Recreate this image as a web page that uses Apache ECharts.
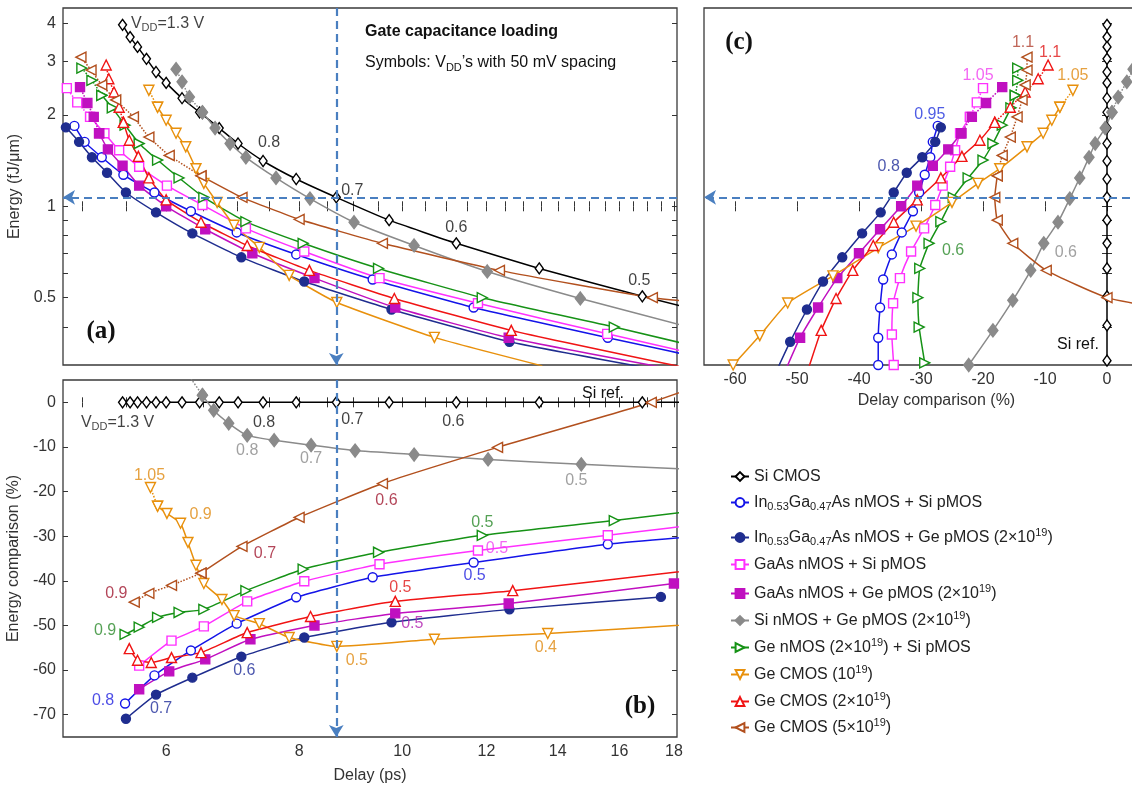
<!DOCTYPE html>
<html>
<head>
<meta charset="utf-8">
<script src="https://cdn.jsdelivr.net/npm/echarts@6/dist/echarts.min.js"></script>
<style>
  html, body { margin: 0; padding: 0; background: #fff; }
  #chart { width: 1132px; height: 790px; }
</style>
</head>
<body>
<div id="chart"></div>
<script>
// Each point: [VDD (V), x, y]
// panel a: [VDD, delay (ps), energy (fJ/um)]
// panel b: [VDD, delay (ps), energy comparison (%)]
// panel c: [VDD, delay comparison (%), energy (fJ/um)]

const siA = [[1.3,5.46,3.96],[1.25,5.55,3.61],[1.2,5.64,3.35],[1.15,5.75,3.06],[1.1,5.87,2.77],[1.05,6.00,2.55],[1.0,6.21,2.27],[0.95,6.45,2.04],[0.9,6.73,1.81],[0.85,7.01,1.61],[0.8,7.40,1.41],[0.75,7.95,1.23],[0.7,8.67,1.07],[0.65,9.72,0.90],[0.6,11.24,0.755],[0.55,13.45,0.624],[0.5,16.81,0.505],[0.45,21.6,0.405],[0.4,29.0,0.31]];
const siB = [[1.3,5.46,0],[1.25,5.55,0],[1.2,5.64,0],[1.15,5.75,0],[1.1,5.87,0],[1.05,6.00,0],[1.0,6.21,0],[0.95,6.45,0],[0.9,6.73,0],[0.85,7.01,0],[0.8,7.40,0],[0.75,7.95,0],[0.7,8.67,0],[0.65,9.72,0],[0.6,11.24,0],[0.55,13.45,0],[0.5,16.81,0],[0.45,21.6,0]];
const siC = [[1.3,0,3.96],[1.25,0,3.61],[1.2,0,3.35],[1.15,0,3.06],[1.1,0,2.77],[1.05,0,2.55],[1.0,0,2.27],[0.95,0,2.04],[0.9,0,1.81],[0.85,0,1.61],[0.8,0,1.41],[0.75,0,1.23],[0.7,0,1.07],[0.65,0,0.90],[0.6,0,0.755],[0.55,0,0.624],[0.5,0,0.505],[0.45,0,0.405],[0.4,0,0.31]];

const ingaasSiA = [[0.95,4.92,1.84],[0.9,5.03,1.63],[0.85,5.22,1.45],[0.8,5.47,1.27],[0.75,5.85,1.11],[0.7,6.33,0.963],[0.65,6.99,0.82],[0.6,7.95,0.694],[0.55,9.38,0.574],[0.5,11.67,0.464],[0.45,15.60,0.369],[0.4,20.5,0.30]];
const ingaasSiB = [[0.8,5.49,-67.5],[0.75,5.85,-61.2],[0.7,6.33,-55.6],[0.65,6.99,-49.6],[0.6,7.95,-43.7],[0.55,9.38,-39.2],[0.5,11.67,-35.9],[0.45,15.60,-31.8],[0.4,20.5,-29.3]];
const ingaasSiC = [[0.95,-27.3,1.84],[0.9,-28.1,1.63],[0.85,-28.5,1.45],[0.8,-29.4,1.27],[0.75,-30.3,1.11],[0.7,-31.3,0.963],[0.65,-33.1,0.82],[0.6,-34.7,0.694],[0.55,-36.1,0.574],[0.5,-36.6,0.464],[0.45,-36.9,0.369],[0.4,-36.9,0.30]];

const ingaasGeA = [[0.95,4.83,1.82],[0.9,4.97,1.63],[0.85,5.11,1.45],[0.8,5.28,1.29],[0.75,5.50,1.11],[0.7,5.87,0.955],[0.65,6.35,0.814],[0.6,7.06,0.679],[0.55,8.09,0.565],[0.5,9.77,0.457],[0.45,12.61,0.358],[0.4,17.5,0.288]];
const ingaasGeB = [[0.75,5.50,-70.9],[0.7,5.87,-65.5],[0.65,6.35,-61.7],[0.6,7.06,-57.0],[0.55,8.09,-52.7],[0.5,9.77,-49.3],[0.45,12.61,-46.4],[0.4,17.5,-43.6]];
const ingaasGeC = [[0.95,-26.8,1.82],[0.9,-27.7,1.63],[0.85,-29.8,1.45],[0.8,-32.3,1.29],[0.75,-34.4,1.11],[0.7,-36.5,0.955],[0.65,-39.5,0.814],[0.6,-42.7,0.679],[0.55,-45.8,0.565],[0.5,-48.4,0.457],[0.45,-51.1,0.358],[0.4,-53.2,0.29]];

const gaasSiA = [[1.05,4.84,2.45],[1.0,4.95,2.20],[0.95,5.09,1.97],[0.9,5.25,1.74],[0.85,5.42,1.53],[0.8,5.66,1.35],[0.75,6.01,1.17],[0.7,6.49,1.01],[0.65,7.13,0.846],[0.6,8.09,0.71],[0.55,9.52,0.58],[0.5,11.78,0.479],[0.45,15.58,0.38],[0.4,20.5,0.305]];
const gaasSiB = [[0.8,5.66,-59.0],[0.75,6.07,-53.4],[0.7,6.51,-50.2],[0.65,7.15,-44.6],[0.6,8.09,-40.1],[0.55,9.52,-36.3],[0.5,11.78,-33.2],[0.45,15.60,-29.8],[0.4,20.5,-26.4]];
const gaasSiC = [[1.05,-20.0,2.45],[1.0,-21.0,2.20],[0.95,-22.1,1.97],[0.9,-23.7,1.74],[0.85,-24.5,1.53],[0.8,-25.3,1.35],[0.75,-26.5,1.17],[0.7,-27.7,1.01],[0.65,-29.5,0.846],[0.6,-31.6,0.71],[0.55,-33.4,0.58],[0.5,-34.5,0.479],[0.45,-34.7,0.378],[0.4,-34.4,0.30]];

const gaasGeA = [[1.05,4.98,2.47],[1.0,5.06,2.19],[0.95,5.13,1.97],[0.9,5.19,1.74],[0.85,5.29,1.54],[0.8,5.46,1.36],[0.75,5.66,1.17],[0.7,6.00,1.0],[0.65,6.53,0.84],[0.6,7.23,0.70],[0.55,8.27,0.58],[0.5,9.85,0.464],[0.45,12.59,0.369],[0.4,18.0,0.29]];
const gaasGeB = [[0.75,5.66,-64.3],[0.7,6.04,-60.3],[0.65,6.53,-57.6],[0.6,7.20,-53.1],[0.55,8.27,-50.0],[0.5,9.85,-47.3],[0.45,12.59,-45.1],[0.4,18.0,-40.6]];
const gaasGeC = [[1.05,-16.9,2.47],[1.0,-19.5,2.19],[0.95,-21.8,1.97],[0.9,-23.5,1.74],[0.85,-25.6,1.54],[0.8,-28.1,1.36],[0.75,-30.6,1.17],[0.7,-33.2,1.0],[0.65,-36.6,0.84],[0.6,-40.0,0.70],[0.55,-43.5,0.58],[0.5,-46.6,0.464],[0.45,-49.5,0.369],[0.4,-51.8,0.29]];

const siGeA = [[1.1,6.13,2.83],[1.05,6.21,2.57],[1.0,6.31,2.29],[0.95,6.49,2.04],[0.9,6.67,1.81],[0.85,6.89,1.61],[0.8,7.13,1.45],[0.75,7.61,1.24],[0.7,8.19,1.06],[0.65,9.01,0.886],[0.6,10.26,0.743],[0.55,12.02,0.61],[0.5,14.70,0.497],[0.45,18.6,0.40]];
const siGeB = [[1.0,6.31,5.8],[0.95,6.49,1.6],[0.9,6.65,-1.8],[0.85,6.87,-4.7],[0.8,7.15,-7.4],[0.75,7.58,-8.5],[0.7,8.21,-9.6],[0.65,9.03,-10.8],[0.6,10.26,-11.7],[0.55,12.04,-12.8],[0.5,14.73,-13.9],[0.45,18.6,-15.0]];
const siGeC = [[0.4,-22.3,0.30],[0.45,-18.4,0.39],[0.5,-15.2,0.49],[0.55,-12.3,0.615],[0.6,-10.2,0.755],[0.65,-7.9,0.886],[0.7,-6.0,1.06],[0.75,-4.4,1.24],[0.8,-2.9,1.45],[0.85,-1.9,1.61],[0.9,-0.3,1.81],[0.95,0.8,2.04],[1.0,1.8,2.29],[1.05,3.2,2.57],[1.1,4.2,2.83]];

const geNSiPA = [[1.1,5.00,2.85],[1.05,5.11,2.60],[1.0,5.22,2.32],[0.95,5.34,2.11],[0.9,5.49,1.85],[0.85,5.66,1.61],[0.8,5.89,1.42],[0.75,6.17,1.24],[0.7,6.51,1.07],[0.65,7.13,0.89],[0.6,8.07,0.755],[0.55,9.50,0.624],[0.5,11.89,0.50],[0.45,15.82,0.40],[0.4,21.5,0.31]];
const geNSiPB = [[0.9,5.49,-52.0],[0.85,5.66,-50.4],[0.8,5.89,-48.2],[0.75,6.17,-47.1],[0.7,6.51,-46.4],[0.65,7.13,-42.2],[0.6,8.07,-37.4],[0.55,9.50,-33.6],[0.5,11.89,-29.8],[0.45,15.82,-26.5],[0.4,21.5,-22.7]];
const geNSiPC = [[1.1,-14.4,2.85],[1.05,-14.4,2.60],[1.0,-14.8,2.32],[0.95,-15.5,2.11],[0.9,-16.9,1.85],[0.85,-18.4,1.61],[0.8,-20.0,1.42],[0.75,-22.4,1.24],[0.7,-24.8,1.07],[0.65,-26.8,0.89],[0.6,-28.7,0.755],[0.55,-30.2,0.624],[0.5,-30.5,0.50],[0.45,-30.3,0.40],[0.4,-29.4,0.305]];

const geCmos1A = [[1.05,5.78,2.41],[1.0,5.89,2.12],[0.95,6.00,1.92],[0.9,6.13,1.74],[0.85,6.26,1.57],[0.8,6.40,1.33],[0.75,6.51,1.19],[0.7,6.70,1.03],[0.65,6.95,0.866],[0.6,7.34,0.732],[0.55,7.83,0.592],[0.5,8.68,0.482],[0.45,10.72,0.37],[0.4,13.54,0.298]];
const geCmos1B = [[1.05,5.80,-19.1],[1.0,5.89,-23.3],[0.95,6.01,-24.9],[0.9,6.19,-27.1],[0.85,6.29,-31.4],[0.8,6.40,-36.5],[0.75,6.51,-40.6],[0.7,6.77,-44.2],[0.65,6.95,-47.8],[0.6,7.34,-49.6],[0.55,7.83,-52.7],[0.5,8.68,-54.7],[0.45,10.72,-53.1],[0.4,13.70,-51.8],[0.35,21.0,-49.0]];
const geCmos1C = [[0.4,-60.3,0.30],[0.45,-56.0,0.375],[0.5,-51.5,0.48],[0.55,-44.2,0.59],[0.6,-36.9,0.73],[0.65,-30.8,0.86],[0.7,-25.0,1.03],[0.75,-20.8,1.19],[0.8,-17.3,1.33],[0.85,-12.9,1.57],[0.9,-10.3,1.74],[0.95,-8.9,1.92],[1.0,-7.6,2.12],[1.05,-5.5,2.41]];

const geCmos2A = [[1.1,5.27,2.92],[1.05,5.30,2.63],[1.0,5.36,2.38],[0.95,5.42,2.12],[0.9,5.47,1.89],[0.85,5.54,1.65],[0.8,5.65,1.46],[0.75,5.78,1.24],[0.7,6.00,1.05],[0.65,6.47,0.886],[0.6,7.15,0.743],[0.55,8.18,0.615],[0.5,9.83,0.497],[0.45,12.66,0.39],[0.4,18.8,0.29]];
const geCmos2B = [[0.85,5.54,-55.2],[0.8,5.64,-57.8],[0.75,5.81,-58.3],[0.7,6.07,-57.2],[0.65,6.47,-56.1],[0.6,7.15,-51.6],[0.55,8.20,-48.0],[0.5,9.85,-44.6],[0.45,12.70,-42.2],[0.4,18.8,-37.6]];
const geCmos2C = [[1.1,-9.5,2.92],[1.05,-11.1,2.63],[1.0,-13.2,2.38],[0.95,-15.6,2.12],[0.9,-18.1,1.89],[0.85,-20.5,1.65],[0.8,-23.4,1.46],[0.75,-26.8,1.24],[0.7,-30.6,1.05],[0.65,-34.4,0.886],[0.6,-37.7,0.743],[0.55,-41.0,0.615],[0.5,-43.7,0.497],[0.45,-46.1,0.39],[0.4,-48.2,0.29]];

const geCmos5A = [[1.1,4.99,3.10],[1.05,5.10,2.81],[1.0,5.22,2.51],[0.95,5.38,2.24],[0.9,5.59,1.97],[0.85,5.78,1.69],[0.8,6.04,1.47],[0.75,6.47,1.26],[0.7,7.07,1.07],[0.65,8.00,0.906],[0.6,9.58,0.755],[0.55,12.34,0.615],[0.5,17.18,0.50],[0.45,22.5,0.46]];
const geCmos5B = [[0.9,5.60,-44.8],[0.85,5.78,-42.8],[0.8,6.07,-41.0],[0.75,6.47,-38.3],[0.7,7.07,-32.3],[0.65,8.00,-25.8],[0.6,9.58,-18.2],[0.55,12.29,-10.1],[0.5,17.14,0.0],[0.45,22.5,10.0]];
const geCmos5C = [[1.1,-12.9,3.10],[1.05,-12.9,2.81],[1.0,-13.2,2.51],[0.95,-13.7,2.24],[0.9,-14.5,1.97],[0.85,-15.6,1.69],[0.8,-16.9,1.47],[0.75,-17.7,1.26],[0.7,-18.1,1.07],[0.65,-17.7,0.90],[0.6,-15.2,0.755],[0.55,-9.8,0.615],[0.5,0.0,0.50],[0.45,10.0,0.457]];

// axis ranges and tick values
const delayRange = [4.8, 18.12];
const energyRange = [0.3, 4.5];
const energyPctRange = [-75, 5];
const delayPctRange = [-65, 10];
const delayTickLabels = [6, 8, 10, 12, 14, 16, 18];
const delayTickMarks = [5, 5.5, 6, 6.5, 7, 7.5, 8, 8.5, 9, 9.5, 10, 10.5, 11, 11.5, 12, 12.5, 13, 13.5, 14, 14.5, 15, 15.5, 16, 16.5, 17, 17.5, 18];
const energyTickLabels = [0.5, 1, 2, 3, 4];
const energyTickMarks = [0.4, 0.5, 0.6, 0.7, 0.8, 0.9, 1, 2, 3, 4];
const energyPctTicks = [0, -10, -20, -30, -40, -50, -60, -70];
const delayPctTicks = [-60, -50, -40, -30, -20, -10, 0];

const FONT = '"Liberation Sans", Arial, Helvetica, sans-serif';
const LOG = Math.log10;

function rich(size, color) {
  const h = size + 4, small = Math.round(size * 0.7), shift = Math.round(size * 0.55);
  const base = { fontFamily: FONT, color: color, fill: color, verticalAlign: 'middle', lineHeight: h };
  return {
    n: Object.assign({}, base, { fontSize: size }),
    s: Object.assign({}, base, { fontSize: small, padding: [shift, 0, 0, 0] }),
    p: Object.assign({}, base, { fontSize: small, padding: [0, 0, shift, 0] })
  };
}

const devices = [
  { key: 'si', name: 'Si CMOS', color: '#000000', symbol: 'diamond', size: [8, 11], rotate: 0, hollow: true, dotFrom: Infinity,
    a: siA, b: siB, c: siC, legend: '{n|Si CMOS}' },
  { key: 'ingaasSi', name: 'InGaAs nMOS + Si pMOS', color: '#1414e8', symbol: 'circle', size: 9, rotate: 0, hollow: true, dotFrom: Infinity,
    a: ingaasSiA, b: ingaasSiB, c: ingaasSiC, legend: '{n|In}{s|0.53}{n|Ga}{s|0.47}{n|As nMOS + Si pMOS}' },
  { key: 'ingaasGe', name: 'InGaAs nMOS + Ge pMOS', color: '#1f2d8f', symbol: 'circle', size: 9, rotate: 0, hollow: false, dotFrom: Infinity,
    a: ingaasGeA, b: ingaasGeB, c: ingaasGeC, legend: '{n|In}{s|0.53}{n|Ga}{s|0.47}{n|As nMOS + Ge pMOS (2×10}{p|19}{n|)}' },
  { key: 'gaasSi', name: 'GaAs nMOS + Si pMOS', color: '#ff30ff', symbol: 'rect', size: 9, rotate: 0, hollow: true, dotFrom: 0.95,
    a: gaasSiA, b: gaasSiB, c: gaasSiC, legend: '{n|GaAs nMOS + Si pMOS}' },
  { key: 'gaasGe', name: 'GaAs nMOS + Ge pMOS', color: '#c010c0', symbol: 'rect', size: 9, rotate: 0, hollow: false, dotFrom: 0.9,
    a: gaasGeA, b: gaasGeB, c: gaasGeC, legend: '{n|GaAs nMOS + Ge pMOS (2×10}{p|19}{n|)}' },
  { key: 'siGe', name: 'Si nMOS + Ge pMOS', color: '#8a8a8a', symbol: 'diamond', size: [10, 13], rotate: 0, hollow: false, dotFrom: 0.95,
    a: siGeA, b: siGeB, c: siGeC, legend: '{n|Si nMOS + Ge pMOS (2×10}{p|19}{n|)}' },
  { key: 'geNSiP', name: 'Ge nMOS + Si pMOS', color: '#169216', symbol: 'triangle', size: 10, rotate: -90, hollow: true, dotFrom: 1.0,
    a: geNSiPA, b: geNSiPB, c: geNSiPC, legend: '{n|Ge nMOS (2×10}{p|19}{n|) + Si pMOS}' },
  { key: 'geCmos1', name: 'Ge CMOS 1e19', color: '#e8900c', symbol: 'triangle', size: 10, rotate: 180, hollow: true, dotFrom: 1.0,
    a: geCmos1A, b: geCmos1B, c: geCmos1C, legend: '{n|Ge CMOS (10}{p|19}{n|)}' },
  { key: 'geCmos2', name: 'Ge CMOS 2e19', color: '#f01414', symbol: 'triangle', size: 10, rotate: 0, hollow: true, dotFrom: 0.9,
    a: geCmos2A, b: geCmos2B, c: geCmos2C, legend: '{n|Ge CMOS (2×10}{p|19}{n|)}' },
  { key: 'geCmos5', name: 'Ge CMOS 5e19', color: '#b2501e', symbol: 'triangle', size: 10, rotate: 90, hollow: true, dotFrom: 0.75,
    a: geCmos5A, b: geCmos5B, c: geCmos5C, legend: '{n|Ge CMOS (5×10}{p|19}{n|)}' }
];
const byKey = {};
devices.forEach(d => { byKey[d.key] = d; });

// panel → axis indices and coordinate transforms
const panels = {
  a: { xi: 0, yi: 0, tx: v => LOG(v), ty: v => LOG(v) },
  b: { xi: 2, yi: 2, tx: v => LOG(v), ty: v => v },
  c: { xi: 4, yi: 4, tx: v => v, ty: v => LOG(v) }
};

// value annotations next to points: [device, VDD, text, dx, dy, color]
const notesA = [
  ['si', 1.3, '{n|V}{s|DD}{n|=1.3 V}', 45, -1, '#111'],
  ['si', 0.8, '0.8', 6, -18, '#111'],
  ['si', 0.7, '0.7', 16, -7, '#111'],
  ['si', 0.6, '0.6', 0, -16, '#111'],
  ['si', 0.5, '0.5', -3, -16, '#111']
];
const notesB = [
  ['si', 1.3, '{n|V}{s|DD}{n|=1.3 V}', -5, 20, '#111'],
  ['si', 0.8, '0.8', 1, 20, '#111'],
  ['si', 0.7, '0.7', 16, 17, '#111'],
  ['si', 0.6, '0.6', -3, 19, '#111'],
  ['siGe', 0.8, '0.8', 0, 15, '#8a8a8a'],
  ['siGe', 0.7, '0.7', 0, 13, '#8a8a8a'],
  ['siGe', 0.5, '0.5', -5, 16, '#8a8a8a'],
  ['geCmos1', 1.05, '1.05', -1, -12, '#e08a10'],
  ['geCmos1', 0.9, '0.9', 20, -9, '#e08a10'],
  ['geCmos1', 0.5, '0.5', 20, 14, '#e08a10'],
  ['geCmos1', 0.4, '0.4', -2, 14, '#e08a10'],
  ['geCmos5', 0.9, '0.9', -18, -9, '#a01830'],
  ['geCmos5', 0.7, '0.7', 23, 7, '#a01830'],
  ['geCmos5', 0.6, '0.6', 4, 17, '#a01830'],
  ['geNSiP', 0.9, '0.9', -20, -4, '#2a8a2a'],
  ['geNSiP', 0.5, '0.5', 0, -13, '#2a8a2a'],
  ['gaasSi', 0.5, '0.5', 19, -2, '#f040f0'],
  ['ingaasSi', 0.8, '0.8', -22, -3, '#2020e0'],
  ['ingaasSi', 0.5, '0.5', 1, 13, '#2020e0'],
  ['ingaasGe', 0.7, '0.7', 5, 14, '#1f2d9a'],
  ['ingaasGe', 0.6, '0.6', 3, 14, '#1f2d9a'],
  ['geCmos2', 0.5, '0.5', 5, -14, '#e01818'],
  ['gaasGe', 0.5, '0.5', 17, 10, '#b020b0']
];
const notesC = [
  ['ingaasGe', 0.95, '0.95', -11, -13, '#2233dd'],
  ['ingaasGe', 0.8, '0.8', -18, -6, '#1f2d9a'],
  ['gaasSi', 1.05, '1.05', -5, -13, '#f040f0'],
  ['geCmos5', 1.1, '1.1', -4, -15, '#b04030'],
  ['geCmos2', 1.1, '1.1', 2, -12, '#e01818'],
  ['geCmos1', 1.05, '1.05', 0, -15, '#e08a10'],
  ['geNSiP', 0.6, '0.6', 24, 7, '#2a8a2a'],
  ['siGe', 0.6, '0.6', 22, 9, '#8a8a8a']
];

const si07 = siA.find(p => p[0] === 0.7);
const refLine = { type: [8, 5], color: '#4a7fc0', width: 2.2 };

function refMarks(panelKey) {
  const lines = [];
  if (panelKey === 'a') {
    lines.push([{ coord: [LOG(delayRange[1]), LOG(si07[2])] }, { coord: [LOG(delayRange[0]), LOG(si07[2])] }]);
    lines.push([{ coord: [LOG(si07[1]), LOG(energyRange[1])] }, { coord: [LOG(si07[1]), LOG(energyRange[0])] }]);
  } else if (panelKey === 'b') {
    lines.push([{ coord: [LOG(si07[1]), energyPctRange[1]] }, { coord: [LOG(si07[1]), energyPctRange[0]] }]);
  } else {
    lines.push([{ coord: [delayPctRange[1], LOG(si07[2])] }, { coord: [delayPctRange[0], LOG(si07[2])] }]);
  }
  return {
    silent: true, symbol: ['none', 'arrow'], symbolSize: [11, 12],
    lineStyle: refLine, label: { show: false }, data: lines, animation: false
  };
}

const series = [];
['a', 'b', 'c'].forEach(pk => {
  const P = panels[pk];
  devices.forEach(dev => {
    const pts = dev[pk];
    const solid = pts.filter(p => p[0] <= dev.dotFrom + 1e-9);
    const dotted = pts.filter(p => p[0] >= dev.dotFrom - 1e-9);
    const make = (part, dashed) => ({
      type: 'line', name: dev.name,
      xAxisIndex: P.xi, yAxisIndex: P.yi,
      data: part.map(p => [P.tx(p[1]), P.ty(p[2])]),
      symbol: dev.symbol, symbolSize: dev.size, symbolRotate: dev.rotate,
      showSymbol: true, smooth: 0.15, clip: true,
      lineStyle: { color: dev.color, width: 1.5, type: dashed ? 'dotted' : 'solid' },
      itemStyle: { color: dev.hollow ? '#ffffff' : dev.color, borderColor: dev.color, borderWidth: 1.4 },
      emphasis: { disabled: true }, animation: false, z: 3
    });
    if (solid.length > 1) {
      const s = make(solid, false);
      if (dev.key === 'si') s.markLine = refMarks(pk);
      series.push(s);
    }
    if (dotted.length > 1) series.push(make(dotted, true));
  });
  const notes = pk === 'a' ? notesA : pk === 'b' ? notesB : notesC;
  series.push({
    type: 'scatter', xAxisIndex: P.xi, yAxisIndex: P.yi, silent: true, z: 6,
    symbolSize: 1, itemStyle: { color: 'rgba(0,0,0,0)' }, animation: false,
    data: notes.map(n => {
      const pt = byKey[n[0]][pk].find(p => p[0] === n[1]);
      return {
        value: [P.tx(pt[1]), P.ty(pt[2])],
        label: {
          show: true, position: 'inside', offset: [n[3], n[4]], formatter: n[2],
          color: n[5], fontSize: 16, fontFamily: FONT, rich: rich(16, n[5])
        }
      };
    })
  });
});

const tickStyle = { show: true, inside: true, length: 5, lineStyle: { color: '#333', width: 1 } };
const labelStyle = { color: '#333', fontSize: 16, fontFamily: FONT };
const fmtLog = v => String(+Math.pow(10, v).toFixed(2));

function axis(gridIndex, position, min, max, ticks, labels, fmt, extra) {
  return Object.assign({
    type: 'value', gridIndex, position, min, max,
    axisLine: { show: false }, splitLine: { show: false },
    axisTick: Object.assign({ customValues: ticks }, tickStyle),
    axisLabel: labels
      ? Object.assign({ show: true, customValues: labels, formatter: fmt, margin: 7 }, labelStyle)
      : { show: false }
  }, extra || {});
}

const dLog = delayTickMarks.map(LOG), dLab = delayTickLabels.map(LOG);
const eLog = energyTickMarks.map(LOG), eLab = energyTickLabels.map(LOG);
const nameStyle = { color: '#333', fontSize: 16, fontFamily: FONT };

const xAxes = [
  axis(0, 'bottom', LOG(delayRange[0]), LOG(delayRange[1]), dLog, null),
  axis(0, 'top', LOG(delayRange[0]), LOG(delayRange[1]), dLog, null),
  axis(1, 'bottom', LOG(delayRange[0]), LOG(delayRange[1]), dLog, dLab, fmtLog,
    { name: 'Delay (ps)', nameLocation: 'middle', nameGap: 31, nameTextStyle: nameStyle }),
  axis(1, 'top', LOG(delayRange[0]), LOG(delayRange[1]), dLog, null),
  axis(2, 'bottom', delayPctRange[0], delayPctRange[1], delayPctTicks, delayPctTicks, v => String(Math.round(v)),
    { name: 'Delay comparison (%)', nameLocation: 'middle', nameGap: 28, nameTextStyle: nameStyle }),
  axis(2, 'top', delayPctRange[0], delayPctRange[1], delayPctTicks, null)
];
const yAxes = [
  axis(0, 'left', LOG(energyRange[0]), LOG(energyRange[1]), eLog, eLab, fmtLog,
    { name: 'Energy (fJ/μm)', nameLocation: 'middle', nameGap: 27, nameTextStyle: nameStyle }),
  axis(0, 'right', LOG(energyRange[0]), LOG(energyRange[1]), eLog, null),
  axis(1, 'left', energyPctRange[0], energyPctRange[1], energyPctTicks, energyPctTicks, v => String(Math.round(v)),
    { name: 'Energy comparison (%)', nameLocation: 'middle', nameGap: 31, nameTextStyle: nameStyle }),
  axis(1, 'right', energyPctRange[0], energyPctRange[1], energyPctTicks, null),
  axis(2, 'left', LOG(energyRange[0]), LOG(energyRange[1]), eLog, null),
  axis(2, 'right', LOG(energyRange[0]), LOG(energyRange[1]), eLog, null)
];

const gridStyle = { show: true, borderColor: '#3a3a3a', borderWidth: 1.3, backgroundColor: 'transparent', outerBoundsMode: 'none', containLabel: false };
const grids = [
  Object.assign({ left: 63, top: 8, width: 614, height: 357 }, gridStyle),
  Object.assign({ left: 63, top: 380, width: 614, height: 357 }, gridStyle),
  Object.assign({ left: 704, top: 8, width: 465, height: 357 }, gridStyle)
];

// legend: one entry per row
const legendRows = [474, 498, 533, 562, 589, 616, 643, 670, 697, 723];
const legends = devices.map((dev, i) => ({
  left: 730, top: legendRows[i] - 5.5, padding: 0, itemGap: 0,
  itemWidth: 18, itemHeight: 11, selectedMode: false,
  data: [dev.name], formatter: () => dev.legend,
  textStyle: { fontSize: 16, fontFamily: FONT, color: '#222', rich: rich(16, '#222') }
}));

function text(x, y, str, font, align, extraRich) {
  return {
    type: 'text', x, y, silent: true, z: 20,
    style: Object.assign({
      text: str, font, fill: '#111', align, verticalAlign: 'middle',
      textAlign: align, textVerticalAlign: 'middle'
    }, extraRich ? { rich: extraRich } : {})
  };
}
const serifBold = 'bold 25px "Liberation Serif", "Times New Roman", serif';
const graphics = [
  text(101, 332, '(a)', serifBold, 'center'),
  text(640, 707, '(b)', serifBold, 'center'),
  text(739, 43, '(c)', serifBold, 'center'),
  text(365, 32, 'Gate capacitance loading', 'bold 16px ' + FONT, 'left'),
  text(365, 63, '{n|Symbols: V}{s|DD}{n|’s with 50 mV spacing}', '16px ' + FONT, 'left', rich(16, '#111')),
  text(603, 394, 'Si ref.', '16px ' + FONT, 'center'),
  text(1078, 345, 'Si ref.', '16px ' + FONT, 'center')
];

const chart = echarts.init(document.getElementById('chart'), null, { renderer: 'canvas' });
chart.setOption({
  animation: false,
  backgroundColor: '#ffffff',
  grid: grids,
  xAxis: xAxes,
  yAxis: yAxes,
  legend: legends,
  series: series,
  graphic: graphics
});
</script>
</body>
</html>
